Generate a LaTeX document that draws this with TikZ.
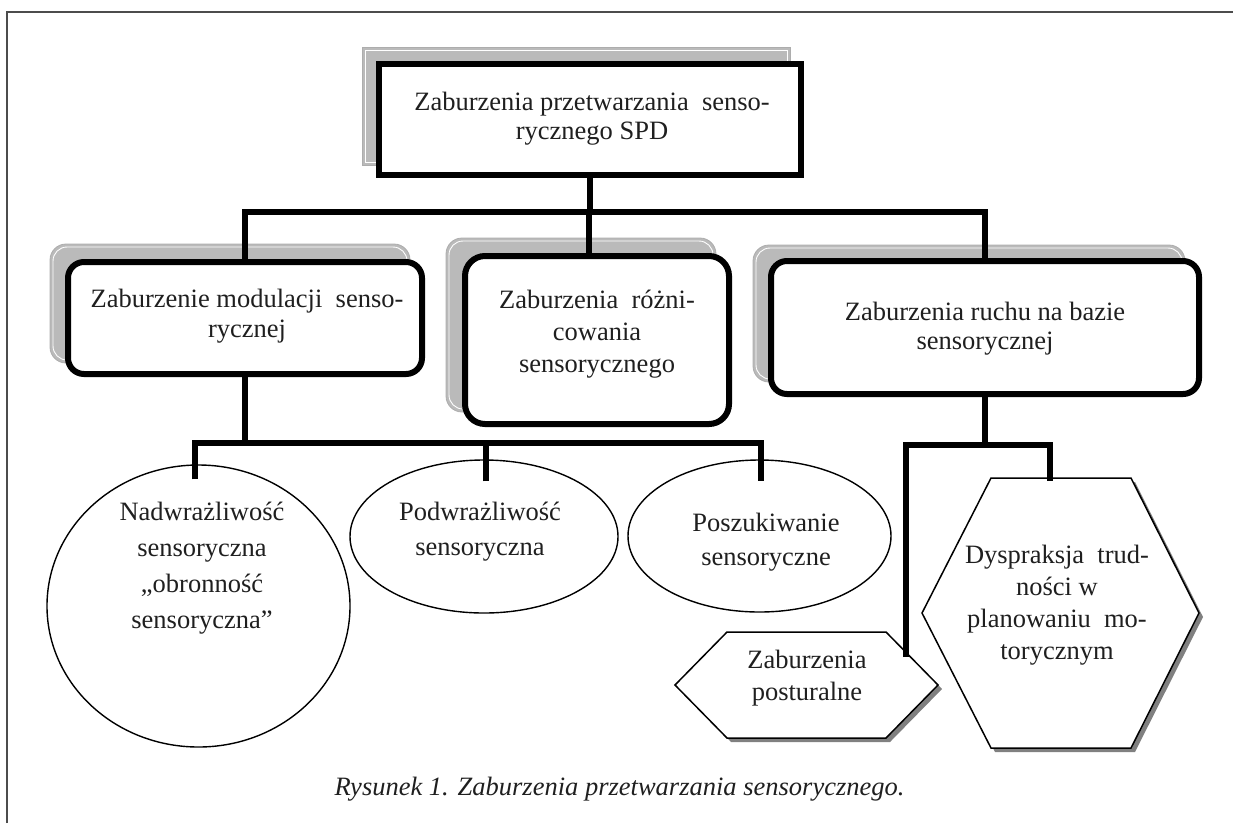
\documentclass[tikz,border=0pt]{standalone}
\usepackage{fontspec}
\setmainfont{Liberation Serif}
\usetikzlibrary{shapes.geometric}
\newcommand{\fstrut}{\rule{0pt}{22pt}}
\begin{document}
\begin{tikzpicture}[x=1pt,y=-1pt,
  conn/.style={line width=6.5pt, black},
  rbox/.style={draw=black, line width=6pt, fill=white, rounded corners=16pt, inner sep=0pt},
  sqbox/.style={draw=black, line width=6pt, fill=white, inner sep=0pt},
  shad/.style={fill=black!27, draw=black!32, line width=0.8pt},
  shadline/.style={draw=white, line width=0.9pt},
  ell/.style={draw=black, line width=1.4pt, ellipse, inner sep=0pt},
  hex/.style={draw=black, line width=1.5pt, fill=white, line join=miter},
  hexshad/.style={fill=black!50},
  txt/.style={font=\fontsize{26.5}{#1}\selectfont, align=center, anchor=north, inner sep=0pt, text=black!88},
  txt/.default=31,
  frame/.style={draw=black!70, line width=2pt}
]
\useasboundingbox (0,0) rectangle (1233,823);
% frame
\draw[frame] (7,823) -- (7,12) -- (1233,12);

% shadows
\draw[shad] (362,47) rectangle (790,165);
\draw[shadline] (365,50) rectangle (787,162);
\draw[shad, rounded corners=16pt] (50,244) rectangle (410,363);
\draw[shadline, rounded corners=14pt] (53,247) rectangle (407,360);
\draw[shad, rounded corners=16pt] (446,238) rectangle (716,412);
\draw[shadline, rounded corners=14pt] (449,241) rectangle (713,409);
\draw[shad, rounded corners=16pt] (753,245) rectangle (1185,382);
\draw[shadline, rounded corners=14pt] (756,248) rectangle (1182,379);

% boxes
\node[sqbox, minimum width=422pt, minimum height=111pt] (top) at (590,119.5) {};
\node[rbox, minimum width=354pt, minimum height=112pt] (lbox) at (245,318) {};
\node[rbox, minimum width=264pt, minimum height=168pt, rounded corners=20pt] (mbox) at (597,340) {};
\node[rbox, minimum width=428pt, minimum height=133pt] (rbox) at (985,327.5) {};

% ellipses
\node[ell, minimum width=303pt, minimum height=282pt] (le) at (198.5,606) {};
\node[ell, minimum width=268pt, minimum height=153pt] (me) at (484,536.5) {};
\node[ell, minimum width=263pt, minimum height=152pt] (re) at (759.5,536) {};

% hexagons
\fill[hexshad, shift={(4,4)}] (727,632) -- (886,632) -- (938,685) -- (886,738) -- (727,738) -- (675,685) -- cycle;
\draw[hex] (727,632) -- (886,632) -- (938,685) -- (886,738) -- (727,738) -- (675,685) -- cycle;
\fill[hexshad, shift={(4,4)}] (991,478) -- (1131,478) -- (1199,613) -- (1131,748) -- (991,748) -- (922,613) -- cycle;
\draw[hex] (991,478) -- (1131,478) -- (1199,613) -- (1131,748) -- (991,748) -- (922,613) -- cycle;
\coordinate (shedge) at (906,657);
\coordinate (bhtop) at (1050,481);

% connectors
\coordinate (bar1) at (0,212);
\coordinate (bar2) at (0,443);
\coordinate (bar3) at (0,445);
\draw[conn] (top.south) -- (top.south |- bar1);
\draw[conn] (lbox.north) -- (lbox.north |- bar1) -- (rbox.north |- bar1) -- (rbox.north);
\draw[conn] ([xshift=-8pt]mbox.north) -- ([xshift=-8pt]mbox.north |- bar1);
\draw[conn] (lbox.south) -- (lbox.south |- bar2);
\draw[conn] ([xshift=-3.5pt,yshift=-15pt]le.north) -- ([xshift=-3.5pt]le.north |- bar2) -- ([xshift=1.5pt]re.north |- bar2) -- ([xshift=1.5pt,yshift=-22pt]re.north);
\draw[conn] ([xshift=2pt,yshift=-22pt]me.north) -- ([xshift=2pt]me.north |- bar2);
\draw[conn] (rbox.south) -- (rbox.south |- bar3);
\draw[conn] (shedge) -- (shedge |- bar3) -- (bhtop |- bar3) -- (bhtop);

% texts (node top = first baseline - 22)
\node[txt=29] (ttop) at (592,88) {\fstrut Zaburzenia przetwarzania\ \ senso-\\rycznego SPD};
\node[txt=30] (tl) at (247,285) {\fstrut Zaburzenie modulacji\ \ senso-\\rycznej};
\node[txt=32] (tm) at (597,286) {\fstrut Zaburzenia\ \ różni-\\cowania\\sensorycznego};
\node[txt=29] (tr) at (985,298) {\fstrut Zaburzenia ruchu na bazie\\sensorycznej};
\node[txt=36] (tle) at (202,498) {\fstrut Nadwrażliwość\\sensoryczna\\„obronność\\sensoryczna”};
\node[txt=35] (tme) at (480,498) {\fstrut Podwrażliwość\\sensoryczna};
\node[txt=34] (tre) at (766,509) {\fstrut Poszukiwanie\\sensoryczne};
\node[txt=32] (tsh) at (807,646) {\fstrut Zaburzenia\\posturalne};
\node[txt=32] (tbh) at (1057,541) {\fstrut Dyspraksja\ \ trud-\\ności w\\planowaniu\ \ mo-\\torycznym};
\node[font=\fontsize{26.5}{31}\selectfont\itshape, anchor=base, inner sep=0pt, text=black!88] (cap) at (619.5,795) {Rysunek 1. Zaburzenia przetwarzania sensorycznego.};
\end{tikzpicture}
\end{document}
